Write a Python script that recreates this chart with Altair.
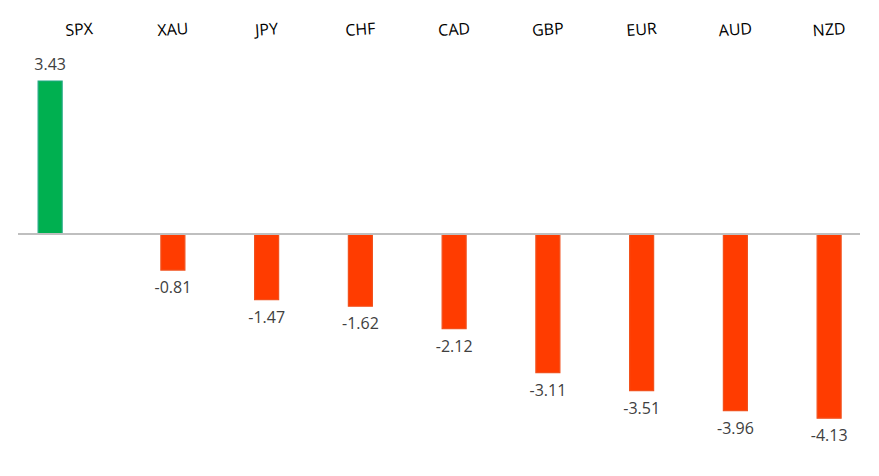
import altair as alt
import pandas as pd

categories = ["SPX", "XAU", "JPY", "CHF", "CAD", "GBP", "EUR", "AUD", "NZD"]
values = [3.43, -0.81, -1.47, -1.62, -2.12, -3.11, -3.51, -3.96, -4.13]

df = pd.DataFrame({"cat": categories, "val": values})
df["label"] = df["val"].map(lambda v: f"{v:.2f}")
df["sign"] = ["pos" if v > 0 else "neg" for v in values]

W, H = 863, 460
SH = 5  # shift of all marks within band
xscale = alt.Scale(domain=categories, paddingInner=0, paddingOuter=0.1027, align=1)
yscale = alt.Scale(domain=[-5.247, 5.067], nice=False, zero=False)
X = alt.X("cat:N", scale=xscale, axis=None, sort=categories)
Y = alt.Y("val:Q", scale=yscale, axis=None)

base = alt.Chart(df)

color = alt.Color("sign:N", scale=alt.Scale(domain=["pos", "neg"], range=["#00B050", "#FF3C00"]), legend=None)
stroke = alt.Stroke("sign:N", scale=alt.Scale(domain=["pos", "neg"], range=["#20A882", "#F2501C"]), legend=None)

bars_spx = base.transform_filter("datum.cat == 'SPX'").mark_bar(
    width=24, xOffset=SH - 29, strokeWidth=1.2
).encode(x=X, y=Y, color=color, stroke=stroke)

bars_rest = base.transform_filter("datum.cat != 'SPX'").mark_bar(
    width=24, xOffset=SH, strokeWidth=1.2
).encode(x=X, y=Y, color=color, stroke=stroke)

zero = base.transform_aggregate(n="count()").transform_calculate(z="0").mark_rule(
    color="#BFBFBF", strokeWidth=2
).encode(y=alt.Y("z:Q", scale=yscale, axis=None), x=alt.value(10), x2=alt.value(852))

pos_lab = base.transform_filter("datum.val > 0").mark_text(
    baseline="bottom", dy=-8, xOffset=SH - 29, font="Open Sans", fontSize=16, color="#404040"
).encode(x=X, y=Y, text="label:N")

neg_lab = base.transform_filter("datum.val < 0").mark_text(
    baseline="top", dy=10, xOffset=SH, font="Open Sans", fontSize=16, color="#404040"
).encode(x=X, y=Y, text="label:N")

cat_lab = base.mark_text(
    baseline="middle", angle=356, xOffset=SH, font="Open Sans", fontSize=16, color="#000000"
).encode(x=X, y=alt.value(22), text="cat:N")

chart = alt.layer(bars_spx, bars_rest, zero, pos_lab, neg_lab, cat_lab).properties(
    width=W, height=H, padding=0
).configure_view(stroke=None)

chart.save("out.html", embed_options={"renderer": "svg", "actions": False})
